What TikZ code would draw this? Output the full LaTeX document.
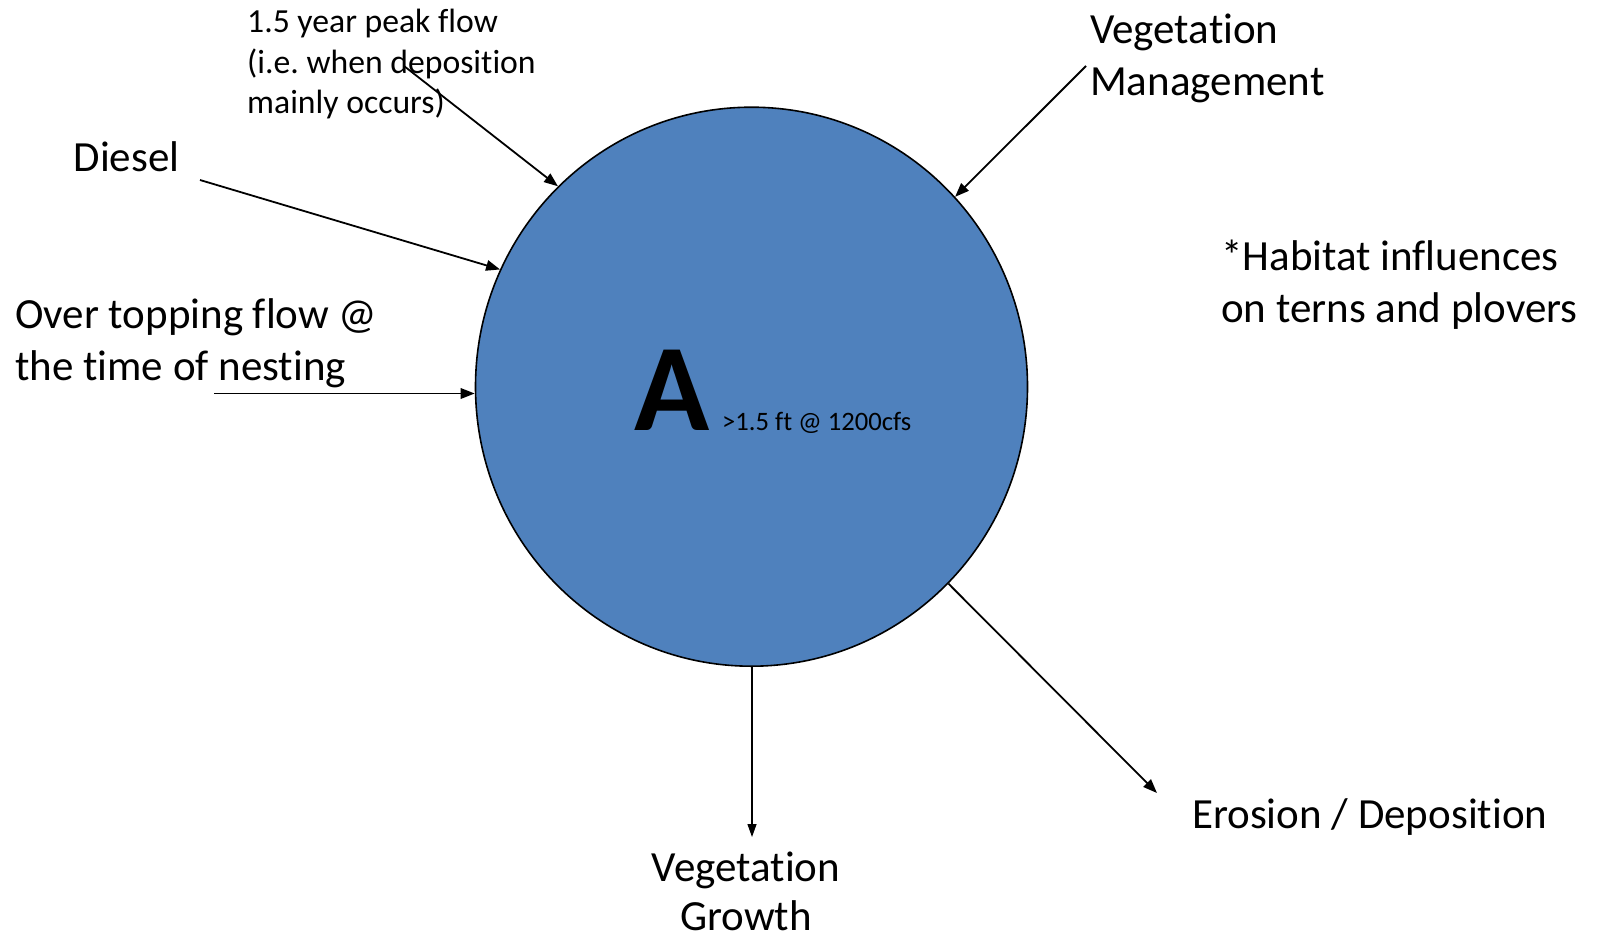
\documentclass[tikz,border=0pt]{standalone}
\usepackage{fontspec}
\setmainfont{Carlito}[Ligatures=NoCommon]
\usetikzlibrary{arrows.meta,shapes.geometric}
\definecolor{hubblue}{RGB}{79,129,189}
\frenchspacing
% several lines stacked, first baseline on the node's baseline
\newcommand\labelstack[2][l]{\begin{tabular}[t]{@{}#1@{}}#2\end{tabular}}
\begin{document}
\begin{tikzpicture}[x=1pt,y=-1pt,
  lbl/.style={inner sep=0pt, anchor=base west, font=\fontsize{43}{51.5}\selectfont},
  smalllbl/.style={inner sep=0pt, anchor=base west, font=\fontsize{33.7}{40.3}\selectfont},
  link/.style={line width=1.8pt, -{Triangle[length=14pt,width=10.5pt]}},
  thinlink/.style={line width=1.3pt, -{Triangle[length=13pt,width=9pt]}},
]
\useasboundingbox (0,0) rectangle (1600,942);

% central habitat circle
\node[ellipse, draw=black, line width=1.6pt, fill=hubblue, inner sep=0pt,
      minimum width=552pt, minimum height=559pt] (hub) at (751.5,386.7) {};
\node[inner sep=0pt, anchor=base west, font=\fontsize{124}{124}\selectfont\bfseries] (grade) at (634.5,430.5) {A};
\node[inner sep=0pt, anchor=base west, font=\fontsize{26.6}{32}\selectfont] (gradenote) at (722,430.5) {>1.5 ft @ 1200cfs};

% influences
\node[smalllbl] (flood) at (247,33) {\labelstack{1.5 year peak flow\\(i.e. when deposition\\mainly occurs)}};
\node[lbl] (diesel) at (73.5,171) {Diesel};
\node[lbl] (overtop) at (15,328.5) {\labelstack{Over topping flow @\\the time of nesting}};
\node[lbl] (vegmgmt) at (1090,43.5) {\labelstack{Vegetation\\Management}};
\node[lbl] (note) at (1221,270.5) {\labelstack{*Habitat influences\\on terns and plovers}};

% outcomes
\node[lbl] (erosion) at (1192,828) {Erosion / Deposition};
\node[lbl, anchor=base, font=\fontsize{43}{49.5}\selectfont] (growth) at (746,881) {\labelstack[c]{Vegetation\\Growth}};

% arrows into the circle
\coordinate (floodtail) at (404,66);
\draw[link] (floodtail) -- (hub.134);
\coordinate (dieseltail) at (200,180);
\draw[link] (dieseltail) -- (hub.155);
\coordinate (overtail) at (214,393.5);
\draw[link] (overtail) -- (overtail -| hub.west);
\coordinate (vegmtail) at (1086,66);
\draw[link] (vegmtail) -- (hub.43.6);

% arrows out of the circle
\coordinate (erotip) at (1157,793);
\draw[link] (hub.-45.6) -- (erotip);
\coordinate (growtip) at (752,837);
\draw[thinlink] (hub.south -| growtip) -- (growtip);
\end{tikzpicture}
\end{document}
